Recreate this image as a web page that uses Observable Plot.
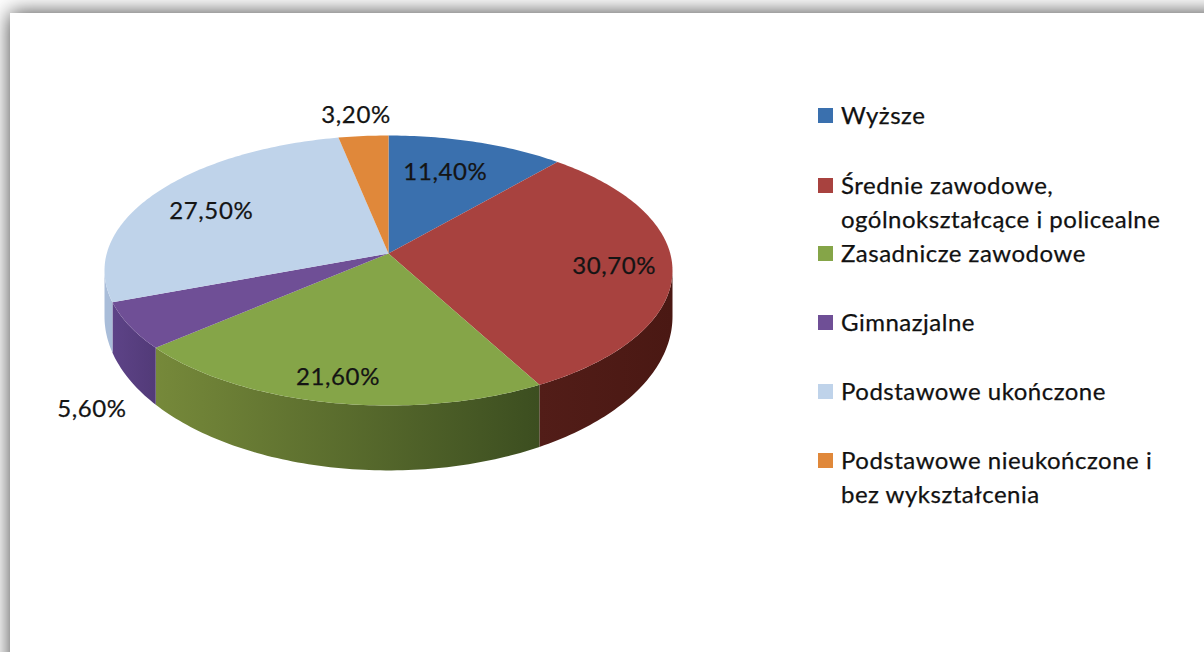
<!DOCTYPE html>
<html lang="pl">
<head>
<meta charset="utf-8">
<script src="https://cdn.jsdelivr.net/npm/d3@7"></script>
<script src="https://cdn.jsdelivr.net/npm/@observablehq/plot@0.6"></script>
<style>
  html, body { margin: 0; padding: 0; width: 1204px; height: 652px; overflow: hidden; background: #fff; }
  #frame { position: absolute; left: 10px; top: 13px; width: 1300px; height: 800px; background: #fff; box-shadow: 0 0 20px rgba(0,0,0,.75); }
  #chart { position: absolute; left: 0; top: 0; }
  #chart svg { display: block; }
  .leg { position: absolute; left: 841px; font: 24px/34px Lato, sans-serif; color: #111; white-space: nowrap; letter-spacing: .5px; -webkit-text-stroke: .25px #111; }
  .sw { position: absolute; left: 818px; width: 15px; height: 15px; }
</style>
</head>
<body>
<div id="frame"></div>
<div id="chart"></div>
<script>
// ---- data ----
const categories = ["Wyższe", "Średnie zawodowe,\nogólnokształcące i policealne", "Zasadnicze zawodowe", "Gimnazjalne", "Podstawowe ukończone", "Podstawowe nieukończone i\nbez wykształcenia"];
const shares = [11.4, 30.7, 21.6, 5.6, 27.5, 3.2];
const shareLabels = ["11,40%", "30,70%", "21,60%", "5,60%", "27,50%", "3,20%"];

// ---- styles and layout ----
const topColors = ["#3a70ae", "#a8423f", "#85a548", "#6f4f96", "#bfd3ea", "#e0883a"];
const sideStops = [["#2b5482", "#2b5482"], ["#521d18", "#4a1813"], ["#76893a", "#3c4e20"], ["#5d4387", "#523a78"], ["#a9bdd9", "#a9bdd9"], ["#a8662b", "#a8662b"]];
const labelRadius = [0.70, 0.79, 0.85, 1.18, 0.73, 1.2];
const labelOnBase = [false, false, false, true, false, false];
const labelNudgeX = [-7, 2, -2, 13, -5, -3];
const labelNudgeY = [-1, 1, 0, 14, 3, 0];
const legendTops = [98, 168, 236, 305, 374, 443];
const legendLineGap = 34;
const tilt = 0.126;      // apex offset caused by the perspective
const baseDrop = 0.341;  // thickness of the disc, in y units
const baseXScale = 1, baseYScale = 1.14;
const unitX = 284, unitY = 135;  // px per model unit, matches the scales below

// ---- geometry ----
function rim(theta, r = 1, base = false) {
  const x0 = r * Math.sin(theta), y0 = r * Math.cos(theta);
  const den = 1 + tilt * y0;
  let x = x0 * Math.sqrt(1 - tilt * tilt) / den, y = (y0 + tilt) / den;
  if (base) { x *= baseXScale; y = y * baseYScale - baseDrop; }
  return {x, y};
}
function arc(a, b, base = false) {
  const n = Math.max(2, Math.ceil(Math.abs(b - a) / (Math.PI / 180)));
  return d3.range(n + 1).map(i => rim(a + (b - a) * i / n, 1, base));
}
const total = d3.sum(shares);
let acc = 0;
const slices = shares.map((v, i) => {
  const start = acc / total * 2 * Math.PI; acc += v;
  return {i, start, end: acc / total * 2 * Math.PI};
});
const frontStart = Math.acos(-tilt), frontEnd = 2 * Math.PI - frontStart;

const sides = slices.flatMap(s => {
  const a = Math.max(s.start, frontStart), b = Math.min(s.end, frontEnd);
  if (a >= b) return [];
  const top = arc(a, b), bottom = arc(b, a, true);
  return [{i: s.i, points: [...top, ...bottom, top[0]]}];
});
const tops = slices.map(s => ({i: s.i, points: [rim(0, 0), ...arc(s.start, s.end), rim(0, 0)]}));
const labels = slices.map(s => {
  const p = rim((s.start + s.end) / 2, labelRadius[s.i], labelOnBase[s.i]);
  return {text: shareLabels[s.i], x: p.x + labelNudgeX[s.i] / unitX, y: p.y - labelNudgeY[s.i] / unitY};
});

const svg = Plot.plot({
  width: 1204, height: 652,
  margin: 0,
  style: {background: "transparent", letterSpacing: "0.6px"},
  x: {domain: [-1, 1], range: [104, 672], axis: null},
  y: {domain: [-1, 1], range: [405, 135], axis: null},
  marks: [
    ...sides.map(s => Plot.line(s.points, {x: "x", y: "y", fill: `url(#side${s.i})`, stroke: "none"})),
    ...tops.map(s => Plot.line(s.points, {x: "x", y: "y", fill: topColors[s.i], stroke: "none"})),
    Plot.text(labels, {x: "x", y: "y", text: "text", fontFamily: "Lato, sans-serif", fontSize: 24, fill: "#141414", stroke: "#141414", strokeWidth: 0.25})
  ]
});

const defs = d3.select(svg).insert("defs", ":first-child");
sideStops.forEach((stops, i) => {
  const g = defs.append("linearGradient").attr("id", `side${i}`).attr("x1", 0).attr("x2", 1).attr("y1", 0).attr("y2", 0);
  g.append("stop").attr("offset", 0).attr("stop-color", stops[0]);
  g.append("stop").attr("offset", 1).attr("stop-color", stops[1]);
});
document.getElementById("chart").append(svg);

// ---- legend ----
const body = d3.select("body");
categories.forEach((name, i) => {
  body.append("div").attr("class", "sw").style("top", `${legendTops[i] + 10}px`).style("background", topColors[i]);
  name.split("\n").forEach((line, k) => {
    body.append("div").attr("class", "leg").style("top", `${legendTops[i] + k * legendLineGap}px`).text(line);
  });
});
</script>
</body>
</html>
